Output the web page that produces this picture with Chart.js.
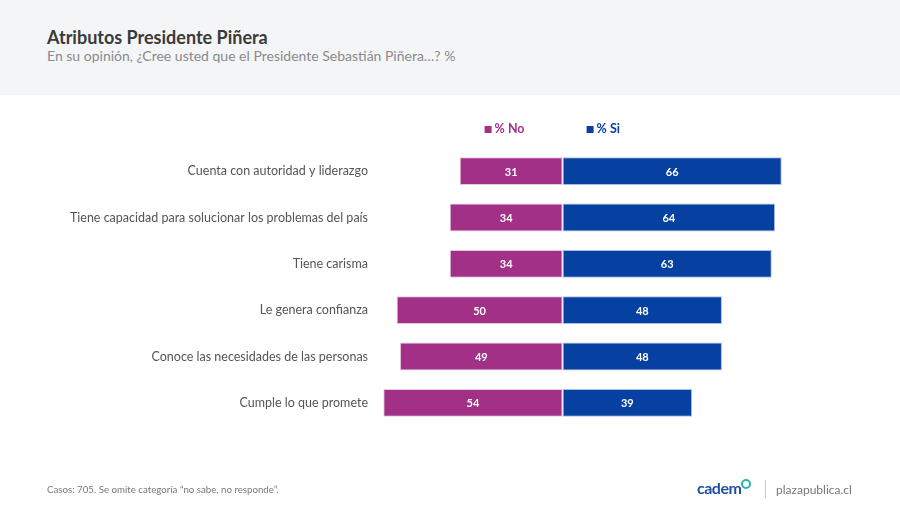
<!DOCTYPE html>
<html>
<head>
<meta charset="utf-8">
<script src="https://cdn.jsdelivr.net/npm/chart.js"></script>
<style>
  body { margin: 0; width: 900px; height: 510px; background: #fff; font-family: Lato, "Open Sans", sans-serif; position: relative; overflow: hidden; }
  .header { position: absolute; left: 0; top: 0; width: 900px; height: 95px; background: #f4f5f7; }
  .title { position: absolute; left: 47px; top: 26px; font-size: 18px; font-weight: bold; color: #3a3a3a; }
  .subtitle { position: absolute; left: 47px; top: 47px; font-size: 14px; color: #8a8a8a; }
  .note { position: absolute; left: 47px; top: 483px; font-size: 9.7px; color: #777; }
  .logo { position: absolute; left: 697px; top: 478px; font-size: 16px; font-weight: bold; color: #1f4fa3; letter-spacing: -0.5px; }
  .logo span { display: inline-block; width: 6px; height: 6px; border: 2px solid #2bb3a8; border-radius: 50%; vertical-align: top; margin-top: 1px; }
  .sep { position: absolute; left: 765px; top: 480px; width: 1px; height: 18px; background: #ccc; }
  .site { position: absolute; left: 776px; top: 482px; font-size: 12px; color: #777; }
  canvas { position: absolute; left: 0; top: 0; }
</style>
</head>
<body>
<div class="header"></div>
<div class="title">Atributos Presidente Piñera</div>
<div class="subtitle">En su opinión, ¿Cree usted que el Presidente Sebastián Piñera…? %</div>
<div style="position:absolute;left:0;top:0;width:900px;height:510px"><canvas id="c" width="900" height="510"></canvas></div>
<div class="note">Casos: 705. Se omite categoría “no sabe, no responde”.</div>
<div class="logo">cadem<span></span></div>
<div class="sep"></div>
<div class="site">plazapublica.cl</div>
<script>
// datos
const categorias = [
  'Cuenta con autoridad y liderazgo',
  'Tiene capacidad para solucionar los problemas del país',
  'Tiene carisma',
  'Le genera confianza',
  'Conoce las necesidades de las personas',
  'Cumple lo que promete'
];
const porcentajeNo = [31, 34, 34, 50, 49, 54];
const porcentajeSi = [66, 64, 63, 48, 48, 39];

const colorNo = '#a33087';
const colorSi = '#0640a0';

// leyenda dibujada a mano, centrada respecto al cero
const leyenda = {
  id: 'leyenda',
  afterDraw(chart) {
    const ctx = chart.ctx;
    const x0 = chart.scales.x.getPixelForValue(0);
    const y = 129;
    ctx.save();
    ctx.font = 'bold 12.5px Lato, sans-serif';
    ctx.textBaseline = 'middle';
    [['% No', colorNo, x0 - 78], ['% Si', colorSi, x0 + 24]].forEach(([txt, col, x]) => {
      ctx.fillStyle = col;
      ctx.fillRect(x, y - 3, 7, 7);
      ctx.fillText(txt, x + 10, y);
    });
    ctx.restore();
  }
};

// etiquetas de valor dentro de cada barra
const etiquetas = {
  id: 'etiquetas',
  afterDatasetsDraw(chart) {
    const ctx = chart.ctx;
    ctx.save();
    ctx.font = 'bold 11px Lato, sans-serif';
    ctx.fillStyle = '#fff';
    ctx.textAlign = 'center';
    ctx.textBaseline = 'middle';
    chart.data.datasets.forEach((ds, i) => {
      chart.getDatasetMeta(i).data.forEach((bar, j) => {
        const cx = (bar.x + bar.base) / 2;
        ctx.fillText(Math.abs(ds.data[j]), cx, bar.y + 1);
      });
    });
    ctx.restore();
  }
};

new Chart(document.getElementById('c'), {
  type: 'bar',
  data: {
    labels: categorias,
    datasets: [
      { label: '% No', data: porcentajeNo.map(v => -v), backgroundColor: colorNo, borderColor: '#e8c6df', borderWidth: 1, borderSkipped: false },
      { label: '% Si', data: porcentajeSi, backgroundColor: colorSi, borderColor: '#a9bde3', borderWidth: 1, borderSkipped: false }
    ]
  },
  options: {
    indexAxis: 'y',
    responsive: false,
    animation: false,
    layout: { padding: { top: 148, bottom: 84, right: 105, left: 0 } },
    categoryPercentage: 1,
    barPercentage: 0.6,
    plugins: { legend: { display: false }, tooltip: { enabled: false } },
    scales: {
      x: { stacked: true, min: -55, max: 70, display: false },
      y: {
        stacked: true,
        grid: { display: false },
        border: { display: false },
        ticks: { color: '#555', font: { family: 'Lato', size: 12.5 }, padding: 4 },
        afterFit(s) { s.width = 380; }
      }
    }
  },
  plugins: [leyenda, etiquetas]
});
</script>
</body>
</html>
